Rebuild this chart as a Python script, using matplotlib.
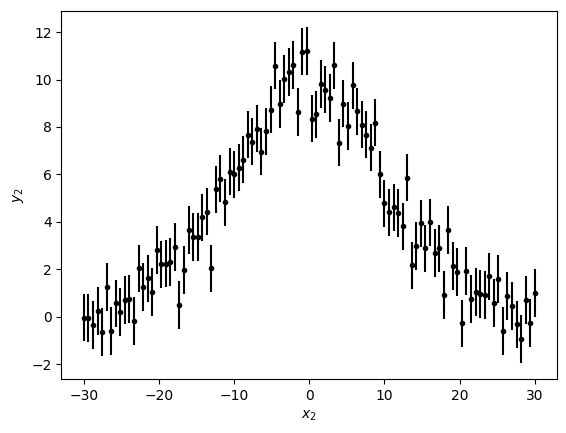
import numpy as np
import matplotlib
matplotlib.use("Agg")
import matplotlib.pyplot as plt

# x positions: 100 evenly spaced samples from -30 to 30
x_start, x_stop, n_points = -30, 30, 100
x2 = np.linspace(x_start, x_stop, n_points)

y2 = [
    -0.03, -0.05, -0.34, 0.25, -0.64, 1.26, -0.59, 0.57, 0.21, 0.71,
    0.76, -0.18, 2.05, 1.26, 1.62, 1.05, 2.82, 2.21, 2.25, 2.31,
    2.94, 0.50, 1.97, 3.66, 3.36, 3.37, 4.19, 4.44, 2.05, 5.37,
    5.83, 4.82, 6.12, 6.00, 6.29, 6.63, 7.68, 7.38, 7.93, 6.96,
    7.82, 8.73, 10.58, 8.97, 10.03, 10.32, 10.62, 8.64, 11.17, 11.20,
    8.35, 8.53, 9.82, 9.57, 9.23, 10.59, 7.34, 8.98, 8.05, 9.75,
    8.66, 8.10, 7.68, 7.13, 8.18, 6.00, 4.78, 4.40, 4.61, 4.37,
    3.81, 5.87, 2.17, 2.98, 3.94, 2.89, 3.98, 2.70, 2.89, 0.92,
    3.66, 2.14, 1.89, -0.27, 1.93, 0.76, 1.05, 0.97, 0.92, 1.71,
    0.59, 1.60, -0.59, 0.88, 0.46, -0.31, -0.92, 0.71, -0.25, 1.01,
]
dy = 1.0

fig = plt.figure(figsize=(5.66, 4.33), dpi=100)
ax = fig.add_axes([61.3 / 566, 53.7 / 433, 496 / 566, 368.8 / 433])
ax.errorbar(x2, y2, yerr=dy, fmt='.k')
ax.set_xlabel('$x_2$')
ax.set_ylabel('$y_2$')
fig.savefig('out.png', dpi=100)
